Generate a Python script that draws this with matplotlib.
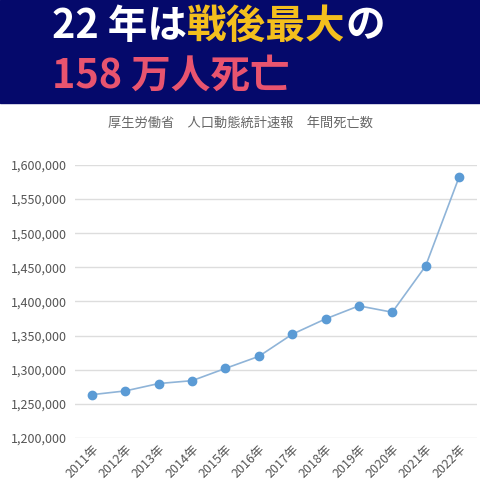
import matplotlib
matplotlib.use("Agg")
import matplotlib.pyplot as plt
from matplotlib.patches import Rectangle
from matplotlib.ticker import FuncFormatter

plt.rcParams['font.family'] = ['Noto Sans CJK JP', 'DejaVu Sans']

years = ['2011年', '2012年', '2013年', '2014年', '2015年', '2016年',
         '2017年', '2018年', '2019年', '2020年', '2021年', '2022年']
deaths = [1263500, 1269000, 1279800, 1284000, 1302000, 1319600,
          1352000, 1374500, 1393600, 1384300, 1452000, 1582000]

fig = plt.figure(figsize=(4.8, 4.91), dpi=100)
fig.patches.append(Rectangle((0, 1 - 103 / 491), 1, 103 / 491, transform=fig.transFigure,
                             color='#05096b', zorder=0))

renderer = fig.canvas.get_renderer()


def run_text(x, y, parts, size):
    # draw coloured pieces one after another on one line
    for s, c in parts:
        t = fig.text(x, y, s, color=c, fontsize=size, fontweight='bold', va='center', ha='left')
        bb = t.get_window_extent(renderer=renderer)
        x += bb.width / fig.bbox.width


run_text(52 / 480, 1 - 26 / 491, [('22 年は', 'white'), ('戦後最大', '#f4bf1d'), ('の', 'white')], 28.5)
run_text(52 / 480, 1 - 76 / 491, [('158 万人死亡', '#e8546f')], 28.5)
fig.text(0.5, 1 - 123 / 491, '厚生労働省　人口動態統計速報　年間死亡数', ha='center', va='center',
         fontsize=9.5, color='#666666')

ax = fig.add_axes([75 / 480, 1 - 438 / 491, 402 / 480, 273 / 491])
ax.plot(years, deaths, color='#8fb4d8', lw=1.2, marker='o', markersize=6,
        markerfacecolor='#5b9bd5', markeredgecolor='#5b9bd5')
ax.set_ylim(1200000, 1600000)
ax.set_yticks(range(1200000, 1600001, 50000))
ax.yaxis.set_major_formatter(FuncFormatter(lambda v, p: f'{int(v):,}'))
ax.set_xlim(-0.51, 11.54)
ax.grid(axis='y', color='#dddddd', lw=1)
ax.set_axisbelow(True)
for s in ax.spines.values():
    s.set_visible(False)
ax.tick_params(length=0, colors='#555555', labelsize=9)
ax.tick_params(axis='y', pad=6)
plt.setp(ax.get_xticklabels(), rotation=45, ha='right', rotation_mode='anchor')

fig.savefig('out.png', dpi=100)
